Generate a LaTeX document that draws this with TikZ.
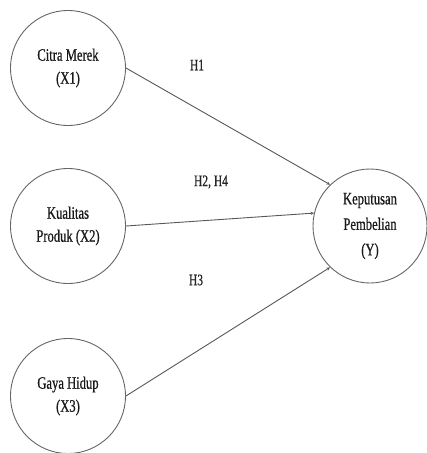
\documentclass[tikz,border=0pt]{standalone}
\usepackage{fontspec}
\setmainfont{Liberation Serif}[FakeStretch=0.72,FakeBold=0.6]
\usetikzlibrary{arrows.meta}
\begin{document}
\begin{tikzpicture}[x=1pt,y=-1pt,
  var/.style={circle,draw=black!60,line width=0.9pt,minimum size=115pt,inner sep=0pt,align=center,
    font=\fontsize{17.5}{23}\selectfont,text=black!90},
  link/.style={draw=black!65,line width=0.9pt,-{Stealth[length=3.5pt,width=3.2pt]}},
  hyp/.style={font=\fontsize{16}{18}\selectfont,text=black!85,inner sep=0pt}]
\useasboundingbox (0,0) rectangle (427,453);
\fill[white] (0,0) rectangle (427,453);
\node[var] (x1) at (68,68) {Citra Merek\\(X1)};
\node[var] (x2) at (68,226) {Kualitas\\Produk (X2)};
\node[var] (x3) at (68,396) {Gaya Hidup\\(X3)};
\node[var,minimum size=114pt,font=\fontsize{17.5}{25.5}\selectfont] (y) at (370,226) {Keputusan\\Pembelian\\(Y)};
\draw[link] (x1.east) -- (y.134);
\draw[link] (x2.east) -- (y.167);
\draw[link] (x3.east) -- (y.226);
\node[hyp] (h1) at (197,65) {H1};
\node[hyp] (h2) at (211,182) {H2, H4};
\node[hyp] (h3) at (196,280) {H3};
\end{tikzpicture}
\end{document}
